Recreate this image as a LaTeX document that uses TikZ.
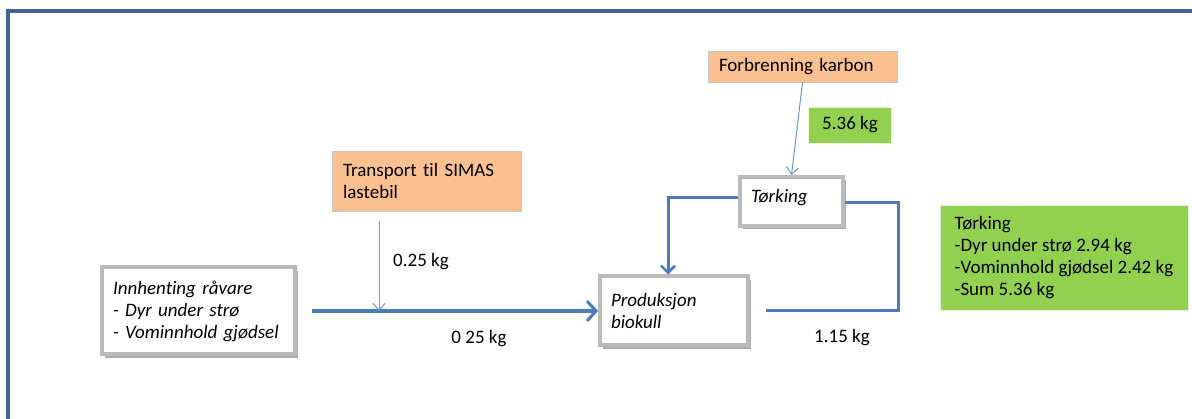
\documentclass[tikz,border=0pt]{standalone}
\usepackage{fontspec}
\setmainfont[Ligatures=NoCommon]{Carlito}
\usepackage{xcolor}
\usepackage{tikz}
\usetikzlibrary{arrows.meta,positioning,calc,shadows}
\definecolor{framecol}{HTML}{41659A}
\definecolor{flowcol}{HTML}{4A7EBB}
\definecolor{thincol}{HTML}{6A98D4}
\definecolor{orangefill}{HTML}{FAC090}
\definecolor{greenfill}{HTML}{92D050}

\begin{document}
\begin{tikzpicture}[
x=1pt,
y=-1pt,
every node/.style={font=\fontsize{19}{22}\selectfont},
stepbox/.style={rectangle,draw=black!27,line width=4pt,fill=white,align=left,inner xsep=10pt,drop shadow={shadow xshift=2.5pt,shadow yshift=-3.5pt,opacity=0.45,fill=black!70},font=\fontsize{19}{22}\selectfont\itshape},
sourcebox/.style={rectangle,draw=black!22,line width=0.8pt,fill=orangefill,align=left,inner xsep=11pt},
massbox/.style={rectangle,draw=white!80!greenfill,line width=0.6pt,fill=greenfill,align=left,inner xsep=14pt},
flow/.style={draw=flowcol,line width=4.5pt,-{Straight Barb[length=9pt,width=20pt,line width=3pt]}},
loop/.style={draw=flowcol,line width=3pt},
feed/.style={draw=thincol,line width=1pt,-{Straight Barb[length=7pt,width=12pt]}}
]
\useasboundingbox (0,0) rectangle (1192,419);
\draw[framecol,line width=3.5pt] (1192,11) -- (8,11) -- (8,419);

\node[stepbox,minimum width=193pt,minimum height=87pt,text width=171pt] (raw) at (198.5,311) {Innhenting råvare\\- Dyr under strø\\- Vominnhold gjødsel};
\node[stepbox,minimum width=148pt,minimum height=69pt,text width=126pt] (prod) at (674,311) {Produksjon\\biokull};
\node[stepbox,minimum width=103pt,minimum height=49pt,text width=81pt,text depth=12pt] (dry) at (791.5,201.5) {Tørking};

\node[sourcebox,minimum width=189pt,minimum height=60pt,text width=167pt] (transport) at (426.5,181) {Transport til SIMAS\\lastebil};
\node[sourcebox,minimum width=189pt,minimum height=31pt,text width=167pt] (burn) at (802.5,66.5) {Forbrenning karbon};
\node[massbox,minimum width=82pt,minimum height=36pt] (drymass) at (850,125) {5.36 kg};
\node[massbox,minimum width=248pt,minimum height=105pt] (summary) at (1064,257.5) {Tørking\\-Dyr under strø 2.94 kg\\-Vominnhold gjødsel 2.42 kg\\-Sum 5.36 kg};

\coordinate (join) at (379,311);
\coordinate (returncorner) at (898,311);

\draw[flow,shorten <=15pt] (raw.east) -- (raw.east -| prod.west);
\draw[feed,shorten <=10pt] (join |- transport.south) -- (join);
\draw[feed] (burn.south) -- (dry.north);
\draw[loop,-{Straight Barb[length=7pt,width=14pt,line width=2.5pt]}] ([yshift=3.5pt]dry.west) -| ([xshift=-6pt]prod.north);
\draw[loop,shorten >=16pt] ([yshift=-1.5pt]dry.east) -| (returncorner) -- (returncorner -| prod.east);

\node (inlabel) at (421,262) {0.25 kg};
\node (outlabel) at (479,339) {0 25 kg};
\node (returnlabel) at (842,338) {1.15 kg};
\end{tikzpicture}
\end{document}
